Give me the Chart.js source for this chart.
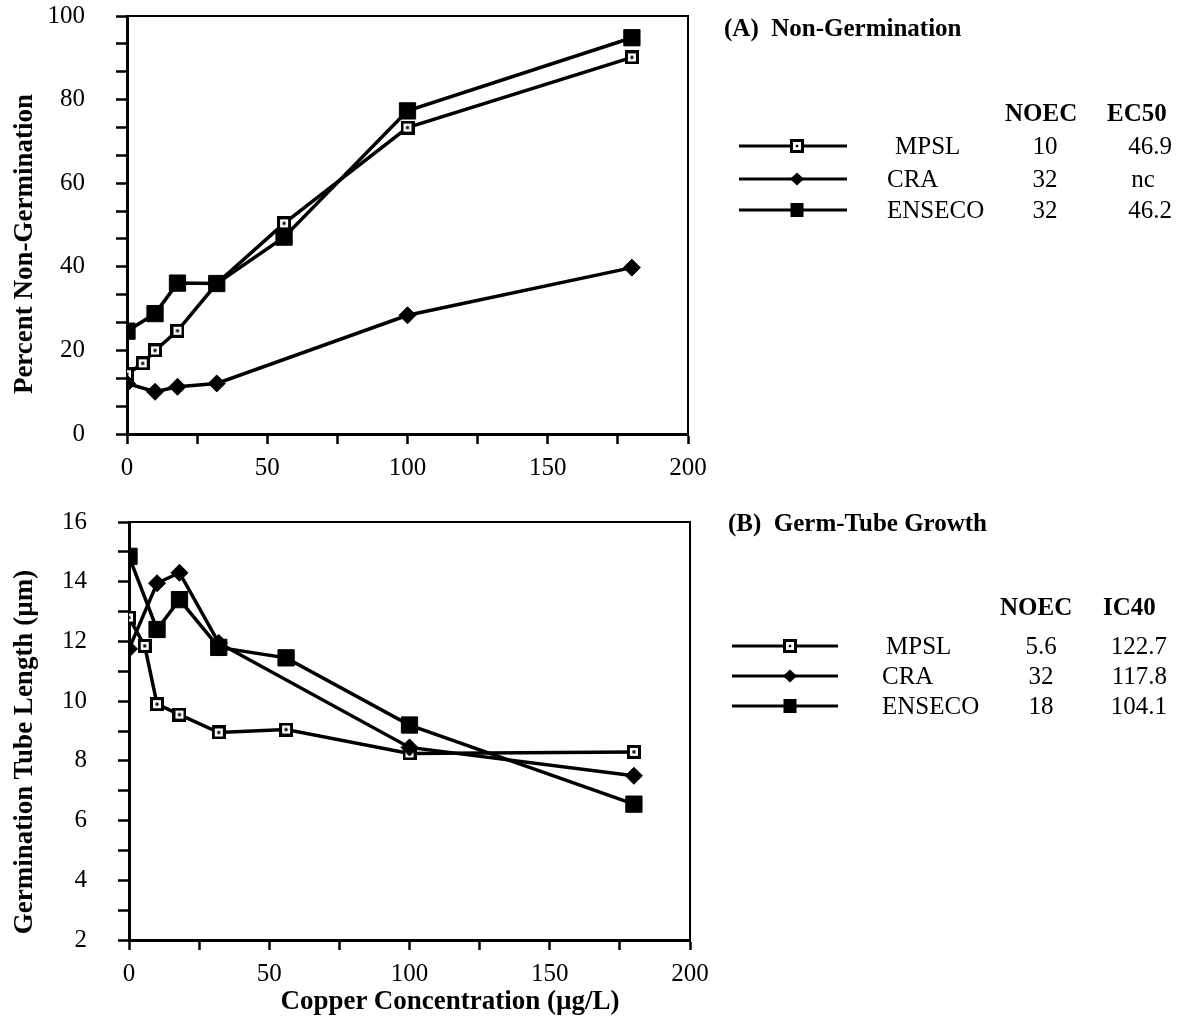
<!DOCTYPE html>
<html><head><meta charset="utf-8">
<script src="https://cdn.jsdelivr.net/npm/chart.js@4.4.1/dist/chart.umd.min.js"></script>
<style>
html,body{margin:0;padding:0;background:#fff;width:1184px;height:1028px;overflow:hidden;}
body{position:relative;font-family:'Liberation Serif','Times New Roman',serif;color:#000;}
.c{position:absolute;}
.t{position:absolute;white-space:nowrap;font-size:25px;line-height:28px;height:28px;}
.b{font-weight:bold;}
.rot{position:absolute;white-space:nowrap;font-weight:bold;font-size:27px;line-height:30px;transform-origin:center center;}
svg{position:absolute;left:0;top:0;}
</style></head><body>
<canvas id="ca" class="c" width="730" height="495" style="left:0;top:0"></canvas>
<canvas id="cb" class="c" width="730" height="533" style="left:0;top:495px"></canvas>
<svg id="leg" width="1184" height="1028"></svg>
<div id="txt"></div>
<script>
// ---- data ----
const concentrations = [0, 5.6, 10, 18, 32, 56, 100, 180];   // µg/L
const seriesNames = ['MPSL', 'CRA', 'ENSECO'];
// (A) Percent non-germination
const nonGermMPSL   = [14.3, 16.9, 20.0, 24.7, 36.0, 50.4, 73.3, 90.1];
const nonGermCRA    = [12.1, null, 10.1, 11.3, 12.1, null, 28.4, 39.8];
const nonGermENSECO = [24.6, null, 28.8, 36.1, 36.0, 47.1, 77.3, 94.8];
// (B) Germination tube length (µm)
const tubeMPSL   = [12.8, 11.85, 9.9, 9.55, 8.95, 9.05, 8.25, 8.3];
const tubeCRA    = [11.75, null, 13.95, 14.3, 11.95, null, 8.45, 7.5];
const tubeENSECO = [14.85, null, 12.4, 13.4, 11.8, 11.45, 9.2, 6.55];
// tick labels
const xTickLabels = [0, 50, 100, 150, 200];
const yTickLabelsA = [0, 20, 40, 60, 80, 100];
const yTickLabelsB = [2, 4, 6, 8, 10, 12, 14, 16];
// legend tables
const noecA = ['10', '32', '32'];
const ec50A = ['46.9', 'nc', '46.2'];
const noecB = ['5.6', '32', '18'];
const ic40B = ['122.7', '117.8', '104.1'];

// ---- styles ----
const FONT = "'Liberation Serif','Times New Roman',serif";
function openSquare(size) {
  const c = document.createElement('canvas');
  c.width = c.height = size;
  const g = c.getContext('2d');
  g.fillStyle = '#fff'; g.fillRect(0, 0, size, size);
  g.strokeStyle = '#000'; g.lineWidth = 3;
  g.strokeRect(1.5, 1.5, size - 3, size - 3);
  g.fillStyle = '#000';
  g.fillRect(size / 2 - 1.5, size / 2 - 1.5, 3, 3);
  return c;
}
const mpslPoint = openSquare(14);

function pts(vals) {
  return concentrations.map((c, i) => ({x: c, y: vals[i]})).filter(p => p.y !== null);
}
function datasets(m, c, e) {
  const base = {borderColor: '#000', borderWidth: 3.5, tension: 0, fill: false, spanGaps: true,
                pointBorderColor: '#000', pointBackgroundColor: '#000', pointHoverRadius: 8};
  return [
    Object.assign({}, base, {label: seriesNames[2], data: pts(e), pointStyle: 'rect', pointRadius: 11.5, pointBorderWidth: 1}),
    Object.assign({}, base, {label: seriesNames[1], data: pts(c), pointStyle: 'rectRot', pointRadius: 8.5, pointBorderWidth: 1}),
    Object.assign({}, base, {label: seriesNames[0], data: pts(m), pointStyle: mpslPoint, pointRadius: 7})
  ];
}
const frame = {
  id: 'frame',
  beforeDatasetsDraw(chart) {
    const a = chart.chartArea, g = chart.ctx;
    g.save(); g.strokeStyle = '#000'; g.lineWidth = 2;
    g.beginPath(); g.moveTo(a.left, a.top); g.lineTo(a.right, a.top); g.lineTo(a.right, a.bottom); g.stroke();
    g.restore();
  }
};
function near(v, list) { return list.some(t => Math.abs(t - v) < 1e-6); }

function makeChart(id, dsets, yMin, yMax, yStep, yLabels, pad, yWidth, xHeight) {
  return new Chart(document.getElementById(id), {
    type: 'line',
    data: {datasets: dsets},
    plugins: [frame],
    options: {
      responsive: false, animation: false, events: [],
      layout: {padding: pad},
      plugins: {legend: {display: false}, tooltip: {enabled: false}},
      scales: {
        x: {
          type: 'linear', min: 0, max: 200,
          afterFit: s => { s.height = xHeight; },
          border: {display: true, color: '#000', width: 3},
          grid: {drawOnChartArea: false, drawTicks: true, tickLength: 10, color: '#000', tickWidth: 2.5},
          ticks: {stepSize: 25, padding: 9, color: '#000', font: {family: FONT, size: 25},
                  maxRotation: 0, autoSkip: false,
                  callback: v => near(v, xTickLabels) ? String(Math.round(v)) : ''}
        },
        y: {
          type: 'linear', min: yMin, max: yMax,
          afterFit: s => { s.width = yWidth; s.paddingTop = 0; s.paddingBottom = 0; },
          border: {display: true, color: '#000', width: 3},
          grid: {drawOnChartArea: false, drawTicks: true, tickLength: 11, color: '#000', tickWidth: 2.5},
          ticks: {stepSize: yStep, padding: 31, color: '#000', font: {family: FONT, size: 25},
                  autoSkip: false,
                  callback: v => near(v, yLabels) ? String(Math.round(v)) : ''}
        }
      }
    }
  });
}

makeChart('ca', datasets(nonGermMPSL, nonGermCRA, nonGermENSECO), 0, 100, 20 / 3, yTickLabelsA,
          {left: 0, right: 42, top: 16, bottom: 0}, 127, 61);
makeChart('cb', datasets(tubeMPSL, tubeCRA, tubeENSECO), 2, 16, 1, yTickLabelsB,
          {left: 0, right: 40, top: 27, bottom: 0}, 129, 88);

// ---- text ----
const T = document.getElementById('txt');
function txt(s, x, y, align, cls) {
  const d = document.createElement('div');
  d.className = 't' + (cls ? ' ' + cls : '');
  d.textContent = s;
  d.style.top = (y - 14) + 'px';
  if (align === 'left') d.style.left = x + 'px';
  else if (align === 'right') d.style.right = (1184 - x) + 'px';
  else { d.style.left = x + 'px'; d.style.transform = 'translateX(-50%)'; }
  T.appendChild(d);
}
function rotTxt(s, cx, cy) {
  const d = document.createElement('div');
  d.className = 'rot';
  d.textContent = s;
  T.appendChild(d);
  const w = d.offsetWidth, h = d.offsetHeight;
  d.style.left = (cx - w / 2) + 'px';
  d.style.top = (cy - h / 2) + 'px';
  d.style.transform = 'rotate(-90deg)';
}
rotTxt('Percent Non-Germination', 23, 244);
rotTxt('Germination Tube Length (\u00b5m)', 23, 752);
const xt = document.createElement('div');
xt.className = 't b'; xt.style.fontSize = '27px';
xt.textContent = 'Copper Concentration (\u00b5g/L)';
xt.style.left = '450px'; xt.style.top = '986px'; xt.style.transform = 'translateX(-50%)';
T.appendChild(xt);

// Panel A legend
txt('(A)\u00a0\u00a0Non-Germination', 724, 28, 'left', 'b');
txt('NOEC', 1005, 113, 'left', 'b');
txt('EC50', 1107, 113, 'left', 'b');
const rowsA = [146, 179, 210];
const nameXA = [895, 887, 887];
seriesNames.forEach((n, i) => {
  txt(n, nameXA[i], rowsA[i], 'left');
  txt(noecA[i], 1045, rowsA[i], 'center');
  if (ec50A[i] === 'nc') txt(ec50A[i], 1143, rowsA[i], 'center');
  else txt(ec50A[i], 1172, rowsA[i], 'right');
});
// Panel B legend
txt('(B)\u00a0\u00a0Germ-Tube Growth', 728, 523, 'left', 'b');
txt('NOEC', 1000, 607, 'left', 'b');
txt('IC40', 1103, 607, 'left', 'b');
const rowsB = [646, 676, 706];
const nameXB = [886, 882, 882];
seriesNames.forEach((n, i) => {
  txt(n, nameXB[i], rowsB[i], 'left');
  txt(noecB[i], 1041, rowsB[i], 'center');
  txt(ic40B[i], 1167, rowsB[i], 'right');
});

// legend samples
const svg = document.getElementById('leg');
const NS = 'http://www.w3.org/2000/svg';
function el(tag, attrs) { const e = document.createElementNS(NS, tag); for (const k in attrs) e.setAttribute(k, attrs[k]); svg.appendChild(e); return e; }
function sample(x1, x2, mx, y, kind) {
  el('line', {x1: x1, x2: x2, y1: y, y2: y, stroke: '#000', 'stroke-width': 3});
  if (kind === 0) {
    el('rect', {x: mx - 5.5, y: y - 5.5, width: 11, height: 11, fill: '#fff', stroke: '#000', 'stroke-width': 3});
    el('rect', {x: mx - 1.2, y: y - 1.2, width: 2.4, height: 2.4, fill: '#000'});
  } else if (kind === 1) {
    el('polygon', {points: `${mx - 7},${y} ${mx},${y - 6.5} ${mx + 7},${y} ${mx},${y + 6.5}`, fill: '#000'});
  } else {
    el('rect', {x: mx - 6.5, y: y - 7, width: 13, height: 14, fill: '#000'});
  }
}
[0, 1, 2].forEach(i => sample(739, 847, 797, rowsA[i], i));
[0, 1, 2].forEach(i => sample(732, 838, 790, rowsB[i], i));
</script>
</body></html>
